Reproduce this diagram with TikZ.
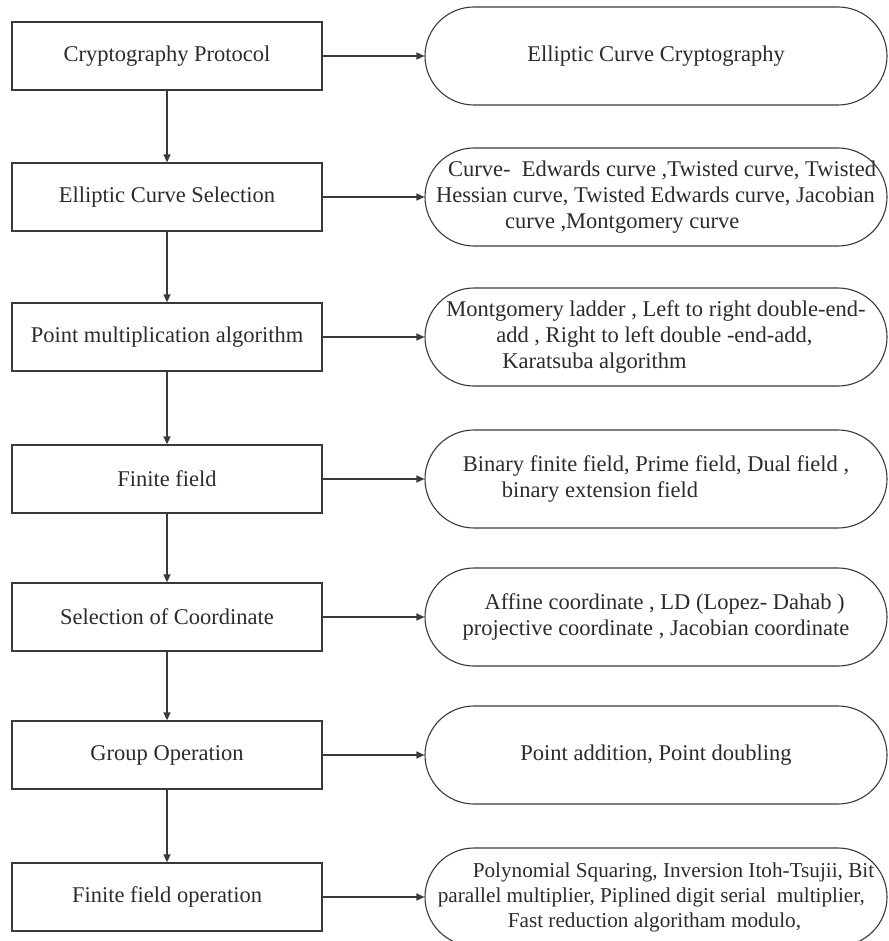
\documentclass[tikz,border=0pt]{standalone}
\usepackage{fontspec}
\setmainfont{Liberation Serif}
\usetikzlibrary{arrows.meta}
\definecolor{ecink}{HTML}{2B2B2B}
\definecolor{ecline}{HTML}{3A3A3A}
\tikzset{
  stage/.style={rectangle,draw=ecline,line width=1.3pt,minimum width=310pt,minimum height=68pt,inner sep=0pt,text=ecink},
  detail/.style={rectangle,rounded corners=49pt,draw=ecline,line width=1.1pt,minimum width=462pt,minimum height=98pt,inner sep=0pt,align=left,text=ecink},
  flow/.style={-{Triangle[length=8pt,width=7pt]},draw=ecline,line width=1.3pt},
}
\begin{document}
\begin{tikzpicture}[x=1pt,y=-1pt,font=\fontsize{22.5}{26}\selectfont]
  \useasboundingbox (0,0) rectangle (888,941);
  \clip (0,0) rectangle (888,941);
  \node[stage] (proto) at (167,56) {Cryptography Protocol};
  \node[stage] (curvesel) at (167,197) {Elliptic Curve Selection};
  \node[stage] (pointmul) at (167,337) {Point multiplication algorithm};
  \node[stage] (field) at (167,479) {Finite field};
  \node[stage] (coordsel) at (167,617) {Selection of Coordinate};
  \node[stage] (groupop) at (167,755) {Group Operation};
  \node[stage] (fieldop) at (167,897) {Finite field operation};
  \node[detail] (ecc) at (656,56) {Elliptic Curve Cryptography};
  \node[detail] (curves) at (656,197) {\hspace*{12pt}Curve-\ \ Edwards curve ,Twisted curve, Twisted\\Hessian curve, Twisted Edwards curve, Jacobian\\\hspace*{69pt}curve ,Montgomery curve};
  \node[detail] (ladders) at (656,337) {Montgomery ladder , Left to right double-end-\\\hspace*{50pt}add , Right to left double -end-add,\\\hspace*{56pt}Karatsuba algorithm};
  \node[detail] (fields) at (656,479) {Binary finite field, Prime field, Dual field ,\\\hspace*{39pt}binary extension field};
  \node[detail] (coords) at (656,617) {\hspace*{22pt}Affine coordinate , LD (Lopez- Dahab )\\projective coordinate , Jacobian coordinate};
  \node[detail] (groupops) at (656,755) {Point addition, Point doubling};
  \node[detail,font=\fontsize{21.2}{25}\selectfont] (fieldops) at (656,897) {\hspace*{35pt}Polynomial Squaring, Inversion Itoh-Tsujii, Bit\\parallel multiplier, Piplined digit serial\ \ multiplier,\hspace*{22pt}\\\hspace*{70pt}Fast reduction algoritham modulo,};
  \draw[flow] (proto)--(curvesel);
  \draw[flow] (curvesel)--(pointmul);
  \draw[flow] (pointmul)--(field);
  \draw[flow] (field)--(coordsel);
  \draw[flow] (coordsel)--(groupop);
  \draw[flow] (groupop)--(fieldop);
  \draw[flow] (proto)--(ecc);
  \draw[flow] (curvesel)--(curves);
  \draw[flow] (pointmul)--(ladders);
  \draw[flow] (field)--(fields);
  \draw[flow] (coordsel)--(coords);
  \draw[flow] (groupop)--(groupops);
  \draw[flow] (fieldop)--(fieldops);
\end{tikzpicture}
\end{document}
